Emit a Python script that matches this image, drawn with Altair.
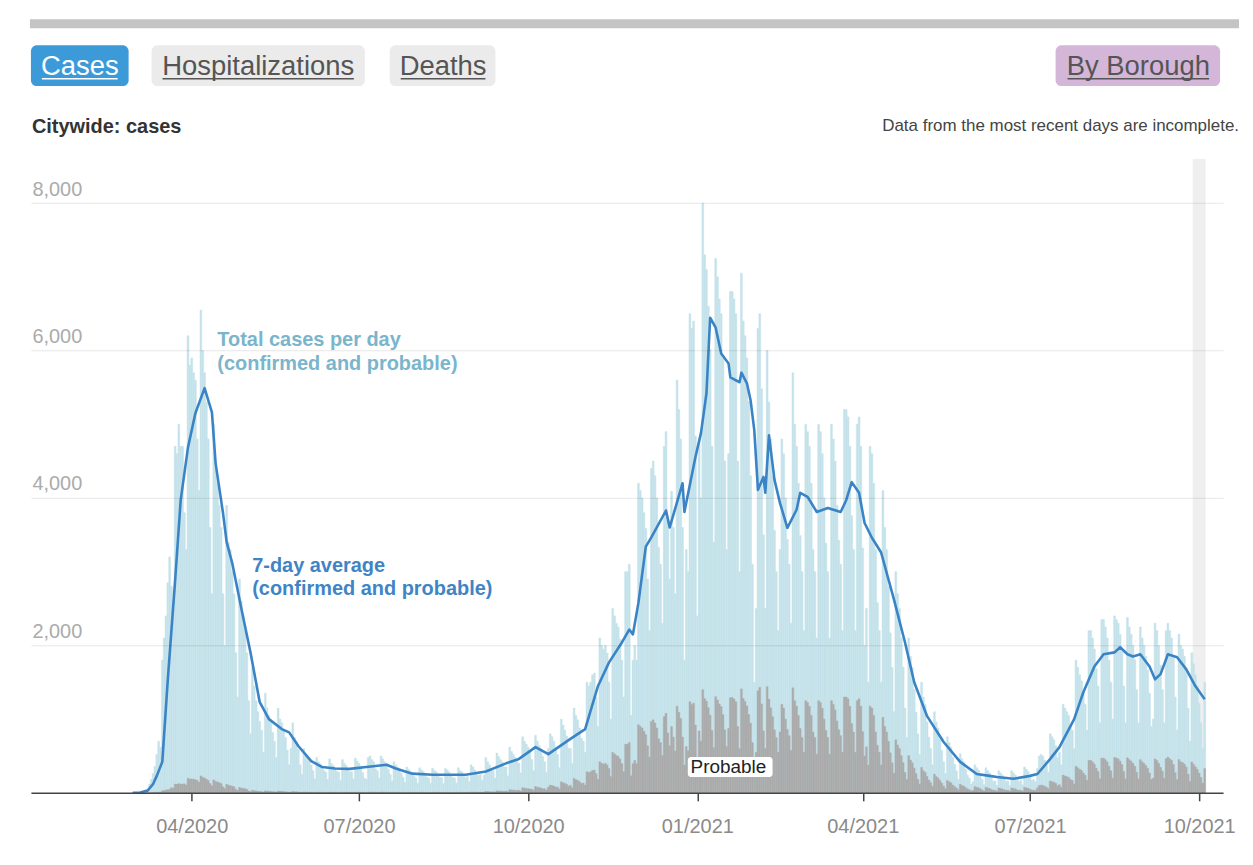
import altair as alt
import pandas as pd

FONT = "Liberation Sans"

# ---------------- data ----------------
first_day = "2020-02-29"

# daily total cases (confirmed + probable), one row per week Sat..Fri
total_cases = [
    1, 1, 3, 6, 10, 14, 25,
    40, 35, 120, 180, 260, 360, 520,
    700, 620, 1800, 2100, 2400, 2850, 3200,
    2800, 2500, 4700, 4600, 5000, 4700, 4700,
    3800, 3300, 6200, 5800, 5900, 5700, 5600,
    4800, 4100, 6550, 6000, 5700, 5300, 4800,
    3600, 2700, 5000, 4400, 4200, 3900, 3600,
    2700, 2000, 3900, 3400, 3300, 3000, 2700,
    1900, 1300, 2900, 2600, 2400, 2200, 1900,
    1250, 800, 1700, 1450, 1250, 1100, 970,
    850, 550, 1350, 1150, 1050, 950, 820,
    700, 480, 1150, 1000, 950, 850, 750,
    580, 380, 600, 950, 750, 700, 590,
    380, 250, 600, 530, 480, 430, 375,
    300, 190, 480, 420, 390, 350, 300,
    280, 180, 460, 400, 370, 330, 290,
    280, 170, 450, 400, 370, 330, 282,
    290, 190, 470, 430, 400, 360, 275,
    200, 180, 480, 500, 450, 420, 325,
    300, 200, 500, 460, 420, 390, 320,
    250, 160, 420, 380, 350, 310, 265,
    215, 140, 350, 320, 290, 265, 226,
    200, 130, 340, 310, 290, 255, 211,
    200, 130, 335, 305, 285, 250, 210,
    205, 125, 330, 310, 285, 250, 210,
    200, 130, 340, 300, 285, 250, 210,
    220, 150, 380, 350, 310, 280, 235,
    250, 170, 240, 480, 420, 380, 300,
    300, 200, 540, 490, 450, 420, 350,
    350, 230, 620, 560, 520, 480, 425,
    400, 270, 760, 700, 660, 620, 566,
    450, 300, 780, 700, 640, 600, 492,
    420, 280, 600, 800, 760, 700, 605,
    520, 340, 1000, 920, 850, 770, 605,
    600, 400, 1150, 1050, 990, 880, 740,
    700, 550, 1500, 1450, 1500, 1600, 1625,
    1300, 900, 2100, 2000, 1950, 2000, 1895,
    1500, 1000, 2500, 2400, 2300, 2250, 2085,
    1800, 1300, 3000, 3000, 3100, 1050, 1800,
    2000, 1800, 4200, 4100, 4000, 3800, 3585,
    2900, 2200, 4400, 4500, 4300, 4000, 3330,
    3100, 2300, 4700, 4900, 3700, 2900, 4090,
    3600, 2700, 5600, 5200, 4800, 3600, 1800,
    3300, 3000, 6500, 6300, 6400, 4840, 2400,
    4800, 4000, 8000, 7300, 7100, 6600, 6020,
    4700, 3400, 7250, 7000, 6700, 6500, 5890,
    4500, 3300, 4600, 6800, 6800, 6700, 6500,
    4500, 3000, 7050, 6400, 6200, 5900, 5310,
    4300, 3100, 1500, 2500, 6300, 6500, 5480,
    3500, 2500, 6000, 5300, 4800, 4300, 3560,
    3000, 2200, 3300, 4800, 4600, 4000, 3440,
    3100, 2300, 5700, 5000, 4700, 4200, 3490,
    3000, 2200, 5000, 4900, 4700, 4200, 3300,
    3000, 2100, 5000, 4900, 4600, 4000, 3385,
    3000, 2100, 5000, 4800, 4500, 3900, 3426,
    3100, 2200, 5200, 5200, 5100, 4700, 3760,
    3300, 2200, 5000, 5100, 4700, 3320, 2000,
    2500, 1500, 4700, 4600, 4200, 3300, 2580,
    2200, 1500, 4100, 3600, 3300, 2800, 2170,
    1700, 1100, 3000, 2700, 2500, 2100, 1705,
    1150, 750, 2100, 1850, 1700, 1400, 1095,
    800, 520, 1500, 1300, 1200, 960, 755,
    600, 380, 1100, 960, 880, 720, 575,
    420, 260, 760, 680, 620, 480, 385,
    300, 180, 530, 460, 420, 320, 240,
    200, 120, 150, 380, 340, 310, 250,
    180, 110, 340, 300, 270, 210, 158,
    160, 100, 300, 270, 240, 190, 154,
    160, 100, 300, 270, 240, 180, 150,
    170, 110, 350, 320, 290, 240, 172,
    180, 150, 330, 500, 520, 500, 445,
    380, 280, 800, 760, 720, 640, 480,
    550, 380, 1200, 1150, 1100, 1050, 905,
    850, 600, 1800, 1700, 1600, 1520, 1345,
    1200, 850, 2200, 2200, 2100, 1950, 1685,
    1450, 950, 2350, 2350, 2250, 2100, 1800,
    1500, 1000, 2400, 2350, 2300, 2150, 1915,
    1450, 950, 2380, 2250, 2150, 2000, 1805,
    1400, 950, 2250, 2100, 2000, 1850, 1665,
    1350, 900, 1000, 2300, 2200, 2000, 1730,
    1400, 950, 2200, 2300, 2200, 2100, 1835,
    1300, 850, 2150, 2000, 1950, 1850, 1660,
    1150, 700, 1900, 1750, 1600, 1450, 1215,
    950, 600, 1500,
]

# daily probable cases, same days
probable_cases = [
    0, 0, 0, 0, 0, 0, 0,
    1, 1, 2, 3, 4, 5, 8,
    10, 9, 27, 32, 36, 43, 48,
    70, 63, 118, 115, 125, 118, 118,
    122, 106, 198, 186, 189, 182, 179,
    168, 144, 229, 210, 200, 186, 168,
    126, 95, 175, 154, 147, 137, 126,
    81, 60, 117, 102, 99, 90, 81,
    48, 33, 73, 65, 60, 55, 48,
    25, 16, 34, 29, 25, 22, 19,
    17, 11, 27, 23, 21, 19, 16,
    14, 10, 23, 20, 19, 17, 15,
    12, 8, 12, 19, 15, 14, 12,
    8, 5, 12, 11, 10, 9, 8,
    6, 4, 10, 8, 8, 7, 6,
    6, 4, 9, 8, 7, 7, 6,
    6, 3, 9, 8, 7, 7, 6,
    6, 4, 9, 9, 8, 7, 6,
    4, 4, 10, 10, 9, 8, 7,
    6, 4, 10, 9, 8, 8, 6,
    5, 3, 8, 8, 7, 6, 5,
    4, 3, 7, 6, 6, 5, 5,
    4, 3, 7, 6, 6, 5, 4,
    4, 3, 7, 6, 6, 5, 4,
    4, 3, 7, 6, 6, 5, 4,
    4, 3, 7, 6, 6, 5, 4,
    7, 5, 11, 11, 9, 8, 7,
    10, 7, 10, 19, 17, 15, 12,
    15, 10, 27, 25, 23, 21, 18,
    25, 16, 43, 39, 36, 34, 30,
    36, 24, 68, 63, 59, 56, 51,
    50, 33, 86, 77, 70, 66, 54,
    55, 36, 78, 104, 99, 91, 79,
    78, 51, 150, 138, 128, 116, 91,
    102, 68, 196, 179, 168, 150, 126,
    133, 105, 285, 276, 285, 304, 309,
    260, 180, 420, 400, 390, 400, 379,
    330, 220, 550, 528, 506, 495, 459,
    396, 286, 660, 660, 682, 231, 396,
    440, 396, 924, 902, 880, 836, 789,
    638, 484, 968, 990, 946, 880, 733,
    682, 506, 1034, 1078, 814, 638, 900,
    756, 567, 1176, 1092, 1008, 756, 378,
    627, 570, 1235, 1197, 1216, 920, 456,
    840, 700, 1400, 1278, 1243, 1155, 1054,
    846, 612, 1305, 1260, 1206, 1170, 1060,
    855, 627, 874, 1292, 1292, 1273, 1235,
    900, 600, 1410, 1280, 1240, 1180, 1062,
    946, 682, 330, 550, 1386, 1430, 1206,
    840, 600, 1440, 1272, 1152, 1032, 854,
    750, 550, 825, 1200, 1150, 1000, 860,
    775, 575, 1425, 1250, 1175, 1050, 873,
    750, 550, 1250, 1225, 1175, 1050, 825,
    750, 525, 1250, 1225, 1150, 1000, 846,
    750, 525, 1250, 1200, 1125, 975, 857,
    775, 550, 1300, 1300, 1275, 1175, 940,
    825, 550, 1250, 1275, 1175, 830, 500,
    625, 375, 1175, 1150, 1050, 825, 645,
    550, 375, 1025, 900, 825, 700, 543,
    408, 264, 720, 648, 600, 504, 409,
    276, 180, 504, 444, 408, 336, 263,
    184, 120, 345, 299, 276, 221, 174,
    138, 87, 253, 221, 202, 166, 132,
    92, 57, 167, 150, 136, 106, 85,
    66, 40, 117, 101, 92, 70, 53,
    44, 26, 33, 84, 75, 68, 55,
    40, 24, 75, 66, 59, 46, 35,
    35, 22, 66, 59, 53, 42, 34,
    35, 22, 66, 59, 53, 40, 33,
    36, 23, 74, 67, 61, 50, 36,
    36, 30, 66, 100, 104, 100, 89,
    76, 56, 160, 152, 144, 128, 96,
    110, 76, 240, 230, 220, 210, 181,
    170, 120, 360, 340, 320, 304, 269,
    240, 170, 440, 440, 420, 390, 337,
    290, 190, 470, 470, 450, 420, 360,
    300, 200, 480, 470, 460, 430, 383,
    290, 190, 476, 450, 430, 400, 361,
    280, 190, 450, 420, 400, 370, 333,
    270, 180, 200, 460, 440, 400, 346,
    294, 200, 462, 483, 462, 441, 385,
    273, 179, 452, 420, 410, 389, 349,
    253, 154, 418, 385, 352, 319, 267,
    209, 132, 330,
]

# 7-day average (confirmed and probable)
avg_dates = [
    "2020-02-29", "2020-03-04", "2020-03-08", "2020-03-11", "2020-03-13", "2020-03-16",
    "2020-03-19", "2020-03-23", "2020-03-26", "2020-03-30", "2020-04-03", "2020-04-08",
    "2020-04-12", "2020-04-14", "2020-04-18", "2020-04-20", "2020-04-23", "2020-04-28",
    "2020-05-03", "2020-05-08", "2020-05-13", "2020-05-20", "2020-05-24", "2020-05-29",
    "2020-06-05", "2020-06-11", "2020-06-18", "2020-06-26", "2020-07-05", "2020-07-10",
    "2020-07-16", "2020-07-21", "2020-07-30", "2020-08-10", "2020-08-28", "2020-09-08",
    "2020-09-19", "2020-09-26", "2020-10-05", "2020-10-12", "2020-10-23", "2020-11-01",
    "2020-11-08", "2020-11-14", "2020-11-21", "2020-11-25", "2020-11-27", "2020-11-30",
    "2020-12-04", "2020-12-07", "2020-12-15", "2020-12-17", "2020-12-24", "2020-12-25",
    "2020-12-31", "2021-01-03", "2021-01-06", "2021-01-08", "2021-01-11", "2021-01-14",
    "2021-01-18", "2021-01-19", "2021-01-24", "2021-01-25", "2021-01-28", "2021-01-30",
    "2021-02-01", "2021-02-03", "2021-02-06", "2021-02-07", "2021-02-09", "2021-02-12",
    "2021-02-15", "2021-02-19", "2021-02-24", "2021-02-26", "2021-03-02", "2021-03-07",
    "2021-03-13", "2021-03-20", "2021-03-23", "2021-03-26", "2021-03-30", "2021-04-02",
    "2021-04-06", "2021-04-11", "2021-04-18", "2021-04-24", "2021-04-29", "2021-05-06",
    "2021-05-15", "2021-05-24", "2021-06-02", "2021-06-09", "2021-06-13", "2021-06-22",
    "2021-07-01", "2021-07-05", "2021-07-12", "2021-07-17", "2021-07-25", "2021-07-30",
    "2021-08-05", "2021-08-10", "2021-08-16", "2021-08-19", "2021-08-23", "2021-08-26",
    "2021-08-30", "2021-09-04", "2021-09-07", "2021-09-10", "2021-09-14", "2021-09-19",
    "2021-09-24", "2021-09-29", "2021-10-04",
]
avg_values = [
    0, 5, 30, 120, 230, 420,
    1540, 2890, 3970, 4690, 5150, 5490,
    5160, 4470, 3800, 3400, 3120, 2500,
    1900, 1230, 1000, 865, 820, 635,
    430, 350, 330, 325, 350, 365,
    380, 330, 260, 245, 245, 290,
    400, 460, 620, 525, 715, 865,
    1450, 1770, 2040, 2215, 2150, 2580,
    3340, 3465, 3830, 3600, 4200, 3810,
    4555, 4880, 5420, 6445, 6310, 5960,
    5825, 5635, 5570, 5700, 5555, 5325,
    4920, 4110, 4285, 4070, 4850, 4245,
    3930, 3595, 3840, 4070, 4015, 3810,
    3865, 3810, 3970, 4215, 4070, 3660,
    3460, 3260, 2620, 2040, 1500, 1040,
    690, 420, 255, 230, 215, 190,
    230, 255, 460, 620, 1000, 1365,
    1715, 1880, 1905, 1975, 1880, 1850,
    1880, 1715, 1540, 1610, 1880, 1840,
    1675, 1445, 1270,
]

tick_dates = ["2020-04-01", "2020-07-01", "2020-10-01", "2021-01-01",
              "2021-04-01", "2021-07-01", "2021-10-01"]
y_ticks = [2000, 4000, 6000, 8000]
y_max = 8600
incomplete_span = ["2021-09-27T12:00:00", "2021-10-04T12:00:00"]

total_note = ["Total cases per day", "(confirmed and probable)"]
total_note_at = ["2020-04-14T22:30:00", "2020-04-14T22:30:00"]
total_note_v = [6068, 5740]
avg_note = ["7-day average", "(confirmed and probable)"]
avg_note_at = ["2020-05-03T21:40:00", "2020-05-03T21:40:00"]
avg_note_v = [2992, 2677]
prob_label_at = "2021-01-17T23:00:00"
prob_label_v = 270
prob_box_x = ["2020-12-26T20:40:00", "2021-02-10T22:50:00"]
prob_box_v = [487, 216]

assert len(total_cases) == len(probable_cases)
assert len(avg_dates) == len(avg_values)

# ---------------- frames ----------------
fmt = "%Y-%m-%dT%H:%M:%S"
days = pd.date_range(first_day, periods=len(total_cases), freq="D")
bars = pd.DataFrame({
    "start": (days - pd.Timedelta(hours=12)).strftime(fmt),
    "end": (days + pd.Timedelta(hours=12)).strftime(fmt),
    "total": total_cases,
    "probable": probable_cases,
})
line_df = pd.DataFrame({"date": [d + "T00:00:00" for d in avg_dates], "avg": avg_values})
band_df = pd.DataFrame({"start": [incomplete_span[0]], "end": [incomplete_span[1]],
                        "top": [y_max], "bottom": [0]})


def dt(s):
    y, m, d = (int(p) for p in s.split("-"))
    return alt.DateTime(year=y, month=m, date=d)


xscale = alt.Scale(domain=[alt.DateTime(year=2020, month=1, date=4, hours=13),
                           alt.DateTime(year=2021, month=10, date=14)])
yscale = alt.Scale(domain=[0, y_max], nice=False)

xaxis = alt.Axis(values=[dt(s) for s in tick_dates], format="%m/%Y", title=None,
                 grid=False, domainColor="#444444", domainWidth=1.5,
                 tickColor="#444444", tickWidth=1.5, tickSize=8, labelPadding=16,
                 labelFontSize=20, labelColor="#8a8a8a", labelFlush=False,
                 labelOverlap=False, labelFont=FONT, zindex=1)
yaxis = alt.Axis(values=y_ticks, format=",.0f", title=None, domain=False, ticks=False,
                 tickSize=0, labelAlign="left", labelBaseline="alphabetic",
                 labelOffset=-8, labelPadding=-1, labelFontSize=20,
                 labelColor="#ababab", labelFont=FONT, gridColor="#000000",
                 gridOpacity=0.1, gridWidth=1, zindex=1)


def X(field):
    return alt.X(field, scale=xscale, axis=xaxis)


def Y(field):
    return alt.Y(field, scale=yscale, axis=yaxis)


band = alt.Chart(band_df).mark_rect(color="#efefef").encode(
    x=X("start:T"), x2="end:T", y=Y("top:Q"), y2="bottom:Q",
)

total_bars = alt.Chart(bars).mark_rect(
    color="#c5e2ea", stroke="#c5e2ea", strokeWidth=0.5).encode(
    x=X("start:T"), x2="end:T", y=Y("total:Q"), y2=alt.datum(0),
)
prob_bars = alt.Chart(bars).mark_rect(
    color="#ababab", stroke="#ababab", strokeWidth=0.4).encode(
    x=X("start:T"), x2="end:T", y=Y("probable:Q"), y2=alt.datum(0),
)
avg_line = alt.Chart(line_df).mark_line(color="#3a84c6", strokeWidth=2.6,
                                         strokeJoin="round").encode(
    x=X("date:T"), y=Y("avg:Q"),
)


def note(texts, ats, vals, color):
    df = pd.DataFrame({"t": ats, "v": vals, "txt": texts})
    return alt.Chart(df).mark_text(align="left", baseline="alphabetic", fontSize=20,
                                   fontWeight="bold", font=FONT, color=color).encode(
        x=X("t:T"), y=Y("v:Q"), text="txt:N")


total_txt = note(total_note, total_note_at, total_note_v, "#7ab5cc")
avg_txt = note(avg_note, avg_note_at, avg_note_v, "#3f85c5")

pbox_df = pd.DataFrame({"x0": [prob_box_x[0]], "x1": [prob_box_x[1]],
                        "v0": [prob_box_v[0]], "v1": [prob_box_v[1]]})
prob_box = alt.Chart(pbox_df).mark_rect(color="white", cornerRadius=3).encode(
    x=X("x0:T"), x2="x1:T", y=Y("v0:Q"), y2="v1:Q")
prob_txt = alt.Chart(pd.DataFrame({"t": [prob_label_at], "v": [prob_label_v],
                                   "txt": ["Probable"]})).mark_text(
    align="center", baseline="alphabetic", fontSize=19, font=FONT, color="#222222").encode(
    x=X("t:T"), y=Y("v:Q"), text="txt:N")

# ---------------- page chrome (buttons, headings) ----------------
one = pd.DataFrame({"k": [0]})


def box(x0, x1, y0, y1, color, r=0):
    return alt.Chart(one).mark_rect(color=color, cornerRadius=r).encode(
        x=alt.value(x0), x2=alt.value(x1), y=alt.value(y0), y2=alt.value(y1))


def label(txt, x, y, size, color, align="center", weight="normal"):
    return alt.Chart(one).mark_text(text=txt, align=align, baseline="alphabetic",
                                    fontSize=size, font=FONT, color=color,
                                    fontWeight=weight).encode(
        x=alt.value(x), y=alt.value(y))


def underline(x0, x1, y, color):
    return alt.Chart(one).mark_rule(color=color, strokeWidth=1.5).encode(
        x=alt.value(x0), x2=alt.value(x1), y=alt.value(y))


chrome = [
    box(-1, 1212, -140, -131, "#c4c4c4"),
    box(0, 98, -114, -73, "#3d9ad9", 6),
    label("Cases", 49, -84, 27.5, "white"),
    underline(11, 87, -80.5, "white"),
    box(121, 335, -114, -73, "#ebebeb", 6),
    label("Hospitalizations", 228, -84, 27.5, "#555555"),
    underline(132, 324, -80.5, "#555555"),
    box(360, 466, -114, -73, "#ebebeb", 6),
    label("Deaths", 413.5, -84, 27.5, "#555555"),
    underline(371, 456, -80.5, "#555555"),
    box(1028, 1193, -114, -73, "#d4b6d9", 6),
    label("By Borough", 1111, -84, 27.5, "#555555"),
    underline(1040, 1182, -80.5, "#555555"),
    label("Citywide: cases", 1, -25.5, 20, "#333333", align="left", weight="bold"),
    label("Data from the most recent days are incomplete.", 1212, -28, 17,
          "#444444", align="right"),
]

chart = alt.layer(
    band, total_bars, prob_bars, avg_line, total_txt, avg_txt, prob_box, prob_txt,
    *chrome,
).properties(
    width=1196, height=636,
    autosize=alt.AutoSizeParams(type="none"),
    padding={"left": 23, "top": 150, "right": 22, "bottom": 60},
).configure(font=FONT, background="white").configure_view(stroke=None)

chart.save("out.html", embed_options={"renderer": "svg", "actions": False})
